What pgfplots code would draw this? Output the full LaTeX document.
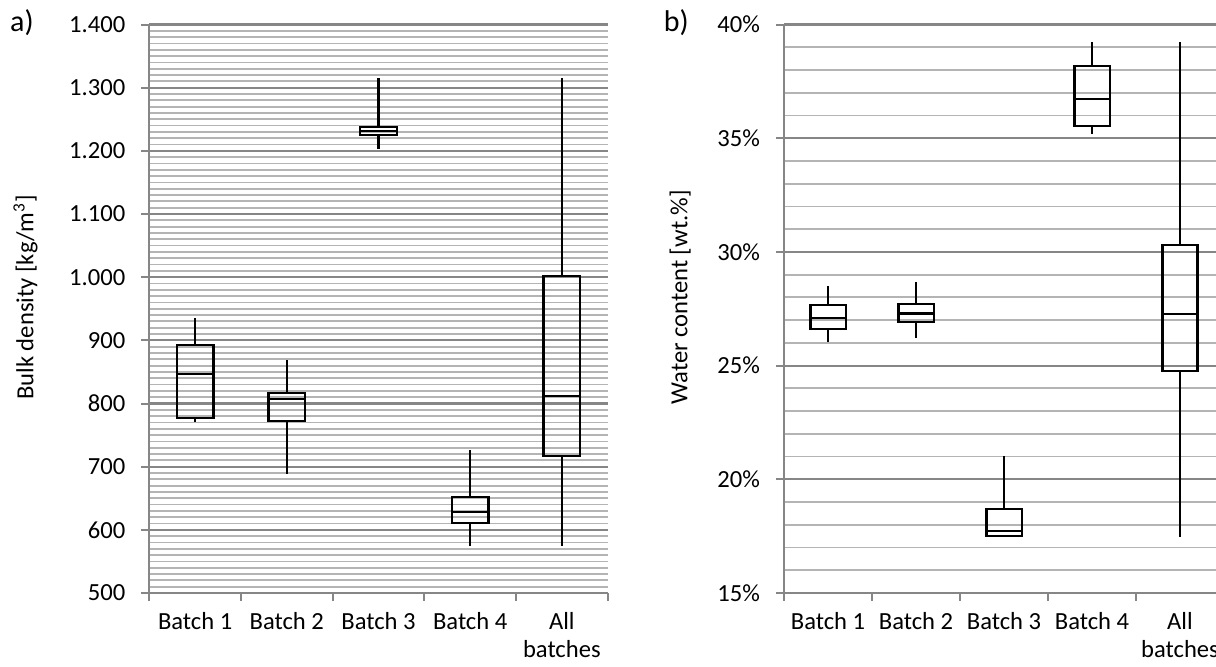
\documentclass[border=0pt]{standalone}
\usepackage{pgfplots}
\pgfplotsset{compat=1.18}
\usepgfplotslibrary{statistics}
\usepackage{fontspec}
\setmainfont{Carlito}
\definecolor{majgrid}{RGB}{134,134,134}
\definecolor{mingrid}{RGB}{180,180,180}
\newcommand{\chartfont}{\fontsize{12.3}{14}\selectfont}
\newcommand{\panelfont}{\fontsize{15}{18}\selectfont}
\pgfplotsset{
  bx/.style={black, solid, line width=1.1pt, fill=none, mark=none},
  common/.style={
    scale only axis,
    anchor=south west,
    clip=false,
    xmin=-0.5, xmax=4.5,
    axis x line*=bottom, axis y line*=left,
    axis line style={-, draw=majgrid, line width=1pt},
    tick align=outside,
    major tick length=4pt,
    minor tick length=4pt,
    xtick={0,1,2,3,4},
    xticklabels={Batch 1,Batch 2,Batch 3,Batch 4,{All\\batches}},
    x tick label style={align=center, yshift=-3.5pt, inner sep=2pt},
    major x tick style={draw=none},
    minor xtick={-0.5,0.5,1.5,2.5,3.5,4.5},
    minor x tick style={draw=majgrid, line width=1pt},
    ymajorgrids, yminorgrids,
    major grid style={draw=majgrid, line width=1.1pt},
    minor grid style={draw=mingrid, line width=0.9pt},
    minor y tick style={draw=none},
    major y tick style={draw=majgrid, line width=1pt},
    yticklabel style={xshift=-4.5pt},
    tick label style={font=\chartfont},
    boxplot/box extend=0.4,
    boxplot/whisker extend=0,
    boxplot/draw direction=y,
  }
}
\begin{document}
\begin{tikzpicture}
\useasboundingbox (0,0) rectangle (608pt,333pt);
\clip (0,0) rectangle (608pt,333pt);
\begin{axis}[common,
  at={(74.65pt,36.5pt)}, width=229.2pt, height=284.25pt,
  ymin=500, ymax=1400,
  ytick={500,600,700,800,900,1000,1100,1200,1300,1400},
  yticklabels={500,600,700,800,900,{1.000},{1.100},{1.200},{1.300},{1.400}},
  minor y tick num=9,
  ylabel={Bulk density [kg/m\textsuperscript{3}]},
  every axis y label/.style={at={(axis description cs:-0.27,0.52)}, rotate=90, anchor=center, font=\chartfont},
]
\addplot[bx, boxplot prepared={draw position=0, lower whisker=770, lower quartile=777, median=847, upper quartile=892, upper whisker=935}] coordinates {};
\addplot[bx, boxplot prepared={draw position=1, lower whisker=688, lower quartile=772.5, median=807, upper quartile=817, upper whisker=869}] coordinates {};
\addplot[bx, boxplot prepared={draw position=2, lower whisker=1203, lower quartile=1225, median=1231.5, upper quartile=1238, upper whisker=1315}] coordinates {};
\addplot[bx, boxplot prepared={draw position=3, lower whisker=575, lower quartile=610.5, median=628, upper quartile=652.5, upper whisker=726.5}] coordinates {};
\addplot[bx, boxplot prepared={draw position=4, lower whisker=575, lower quartile=717.5, median=811.5, upper quartile=1002, upper whisker=1315}] coordinates {};
\node[font=\panelfont, anchor=center] at (axis description cs:-0.278,1.004) {a)};
\end{axis}
\begin{axis}[common,
  at={(392pt,36.5pt)}, width=220pt, height=284.25pt,
  ymin=15, ymax=40,
  ytick={15,20,25,30,35,40},
  yticklabels={15\%,20\%,25\%,30\%,35\%,40\%},
  minor y tick num=4,
  ylabel={Water content [wt.\%]},
  every axis y label/.style={at={(axis description cs:-0.236,0.52)}, rotate=90, anchor=center, font=\chartfont},
]
\addplot[bx, boxplot prepared={draw position=0, lower whisker=26.03, lower quartile=26.6, median=27.08, upper quartile=27.65, upper whisker=28.52}] coordinates {};
\addplot[bx, boxplot prepared={draw position=1, lower whisker=26.23, lower quartile=26.92, median=27.29, upper quartile=27.7, upper whisker=28.67}] coordinates {};
\addplot[bx, boxplot prepared={draw position=2, lower whisker=17.45, lower quartile=17.52, median=17.73, upper quartile=18.68, upper whisker=21.04}] coordinates {};
\addplot[bx, boxplot prepared={draw position=3, lower whisker=35.2, lower quartile=35.53, median=36.74, upper quartile=38.18, upper whisker=39.24}] coordinates {};
\addplot[bx, boxplot prepared={draw position=4, lower whisker=17.45, lower quartile=24.78, median=27.27, upper quartile=30.31, upper whisker=39.24}] coordinates {};
\node[font=\panelfont, anchor=center] at (axis description cs:-0.245,1.004) {b)};
\end{axis}
\end{tikzpicture}
\end{document}
